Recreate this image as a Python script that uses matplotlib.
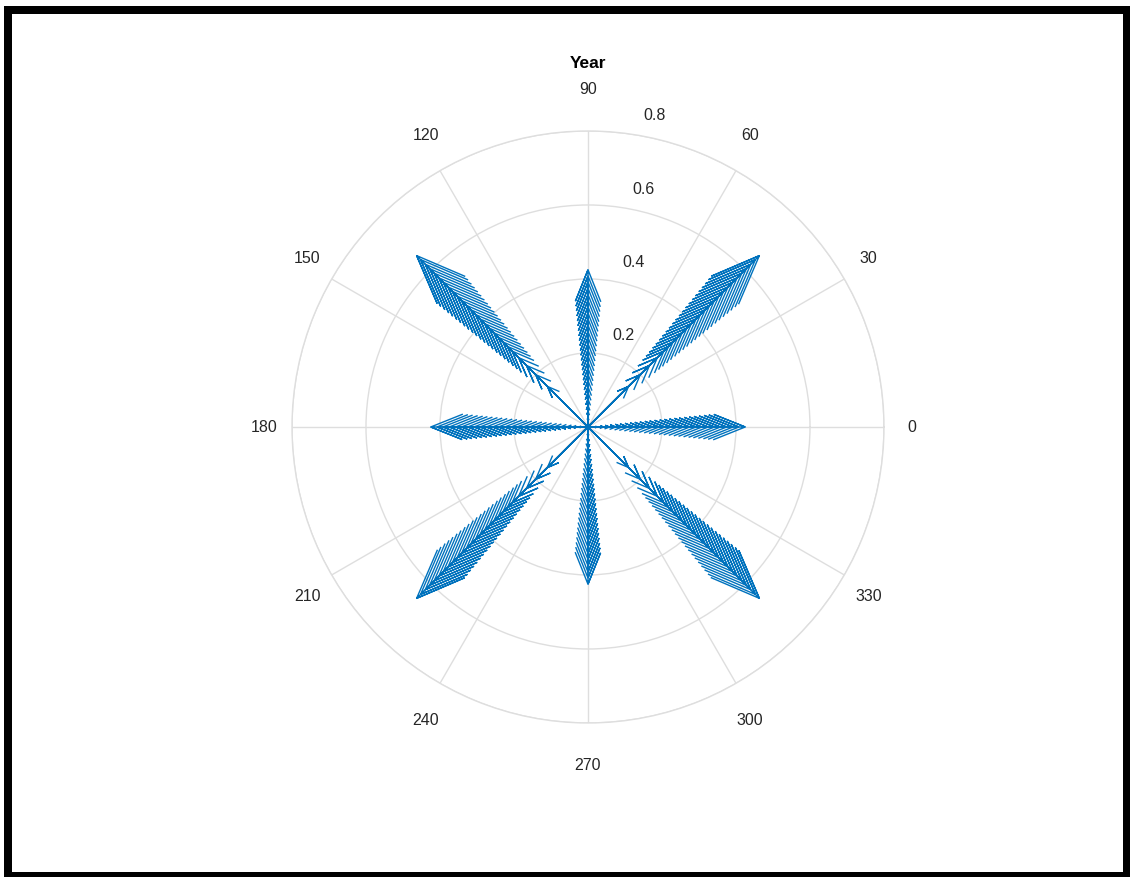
import numpy as np
import matplotlib.pyplot as plt
from matplotlib.patches import Rectangle

# arrow directions (degrees) and arrow lengths for each direction
axis_dirs = [0, 90, 180, 270]
diag_dirs = [45, 135, 225, 315]
axis_len = [0.025, 0.042, 0.058, 0.075, 0.092, 0.108, 0.125, 0.142, 0.158,
            0.175, 0.192, 0.208, 0.225, 0.242, 0.258, 0.275, 0.292, 0.308,
            0.325, 0.342, 0.358, 0.375, 0.392, 0.408, 0.425]
diag_len = [0.155, 0.20, 0.235, 0.265, 0.29, 0.308, 0.325, 0.343, 0.36,
            0.378, 0.395, 0.413, 0.43, 0.448, 0.465, 0.483, 0.50, 0.518,
            0.535, 0.553, 0.57, 0.588, 0.605, 0.622, 0.64, 0.655]

r_ticks = [0.2, 0.4, 0.6, 0.8]
theta_ticks = list(range(0, 360, 30))

blue = '#0072BD'
grid_col = '#dedede'


def arrow_path(deg, length):
    '''compass style arrow: shaft plus head scaled with its length'''
    xx = np.array([0, 1, 0.8, 1, 0.8])
    yy = np.array([0, 0, 0.08, 0, -0.08])
    r = length * np.hypot(xx, yy)
    th = np.radians(deg) + np.arctan2(yy, xx)
    return th, r


fig = plt.figure(figsize=(11.3, 8.78), dpi=100)
fig.patch.set_facecolor('white')
plt.rcParams['font.family'] = ['Liberation Sans', 'DejaVu Sans']

ax = fig.add_axes([0.2584, 0.1754, 0.5239, 0.6743], projection='polar')
ax.set_ylim(0, 0.8)
ax.set_yticks(r_ticks)
ax.set_yticklabels([])
ax.set_xticks(np.radians(theta_ticks))
ax.set_xticklabels([])
ax.grid(True, color=grid_col, linewidth=1.0)
ax.spines['polar'].set_color(grid_col)
ax.spines['polar'].set_linewidth(1.0)
ax.tick_params(length=0)

# draw the arrows
for dirs, lens in ((axis_dirs, axis_len), (diag_dirs, diag_len)):
    for d in dirs:
        for L in lens:
            th, r = arrow_path(d, L)
            ax.plot(th, r, color=blue, linewidth=1.0, solid_joinstyle='miter')

# angle labels round the outside
for t in theta_ticks:
    a = np.radians(t)
    ax.annotate(str(t), xy=(a, 0.8), xytext=(28 * np.cos(a), 42 * np.sin(a)),
                textcoords='offset pixels', ha='center', va='center',
                fontsize=11.5, color='#262626', annotation_clip=False)

# radius labels
for rt in r_ticks:
    ax.annotate('%.1f' % rt, xy=(np.radians(82), rt), xytext=(25, 19),
                textcoords='offset pixels', ha='center', va='center',
                fontsize=11.5, color='#262626', annotation_clip=False)

fig.text(588 / 1130, 1 - 63 / 878, 'Year', ha='center', va='center',
         fontsize=12.5, fontweight='bold', color='black')

# black frame
W, H = 1130, 878
for x0, y0, x1, y1 in [(4, 7, 1130, 15), (4, 7, 12, 878),
                       (1123, 7, 1130, 878), (4, 873, 1130, 878)]:
    fig.add_artist(Rectangle((x0 / W, 1 - y1 / H), (x1 - x0) / W,
                             (y1 - y0) / H, transform=fig.transFigure,
                             facecolor='black', edgecolor='none'))

plt.savefig('out.png', dpi=100)
